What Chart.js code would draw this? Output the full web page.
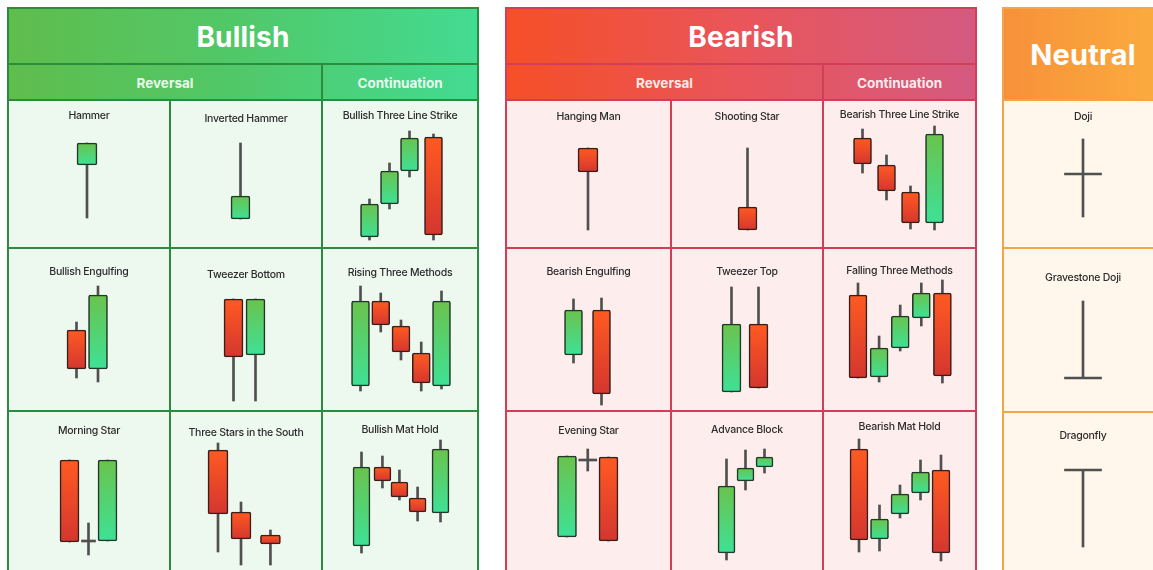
<!DOCTYPE html>
<html>
<head>
<meta charset="utf-8">
<script src="https://cdn.jsdelivr.net/npm/chart.js@4.4.1/dist/chart.umd.min.js"></script>
<style>
  html, body { margin:0; padding:0; background:#ffffff; width:1153px; height:570px; overflow:hidden; }
  body { position:relative; font-family: Inter, "Open Sans", "DejaVu Sans", sans-serif; }
  .abs { position:absolute; box-sizing:border-box; }
  .title { position:absolute; text-align:center; font-size:10.5px; font-weight:500; color:#2c2c2c; letter-spacing:-0.25px; line-height:14px; white-space:nowrap; z-index:3; }
  .hdr { position:absolute; text-align:center; color:#ffffff; font-weight:700; white-space:nowrap; z-index:3; }
  canvas { position:absolute; z-index:2; }
</style>
</head>
<body>
<script>
// ---------------- DATA ----------------
// Candles: [position, open, high, low, close]  (price units)
const panelTitles = ["Bullish", "Bearish", "Neutral"];
const groupTitles = ["Reversal", "Continuation"];

const bullishNames = ["Hammer", "Inverted Hammer", "Bullish Three Line Strike",
                      "Bullish Engulfing", "Tweezer Bottom", "Rising Three Methods",
                      "Morning Star", "Three Stars in the South", "Bullish Mat Hold"];
const bearishNames = ["Hanging Man", "Shooting Star", "Bearish Three Line Strike",
                      "Bearish Engulfing", "Tweezer Top", "Falling Three Methods",
                      "Evening Star", "Advance Block", "Bearish Mat Hold"];
const neutralNames = ["Doji", "Gravestone Doji", "Dragonfly"];

const hammer                 = [[0, 83, 105, 30, 105]];
const invertedHammer         = [[0, 29, 105, 29, 52]];
const bullishThreeLineStrike = [[0, 11, 49, 8, 44], [1, 44, 85, 39, 77], [2, 77, 117, 71, 110], [3.2, 111, 114, 8, 13]];
const bullishEngulfing       = [[0, 81, 89, 33, 42], [1, 42, 125, 29, 116]];
const tweezerBottom          = [[0, 112, 112, 10, 54], [1, 56, 112, 10, 112]];
const risingThreeMethods     = [[0, 25, 125, 20, 110], [1, 110, 118, 79, 86], [2, 85, 91, 51, 59], [3, 58, 69, 20, 28], [4, 25, 120, 22, 110]];
const morningStar            = [[0, 110, 110, 28, 28], [1, 29, 47, 15, 29], [2, 29, 110, 29, 110]];
const threeStarsInTheSouth   = [[0, 120, 127, 18, 56], [1, 58, 68, 5, 31], [2.28, 35, 40, 5, 26]];
const bullishMatHold         = [[0, 24, 118, 17, 103], [1.06, 103, 114, 82, 89], [1.92, 88, 100, 70, 73], [2.84, 72, 83, 49, 58], [4, 57, 130, 48, 121]];

const hangingMan             = [[0, 100, 100, 18, 76]];
const shootingStar           = [[0, 41, 100, 18, 18]];
const bearishThreeLineStrike = [[0, 110, 119, 75, 84], [1, 83, 93, 48, 57], [2, 56, 62, 19, 25], [3, 25, 122, 18, 114]];
const bearishEngulfing       = [[0, 56, 112, 48, 101], [1, 101, 113, 6, 17]];
const tweezerTop             = [[0, 19, 124, 19, 87], [1, 87, 124, 23, 23]];
const fallingThreeMethods    = [[0, 116, 128, 33, 33], [1, 34, 75, 29, 63], [2, 63, 106, 60, 95], [3, 93, 128, 85, 118], [4, 118, 131, 28, 35]];
const eveningStar            = [[0, 33, 114, 33, 114], [1, 110, 121, 99, 110], [2, 113, 113, 29, 29]];
const advanceBlock           = [[0, 17, 111, 10, 84], [1, 89, 120, 80, 102], [2, 103, 121, 97, 113]];
const bearishMatHold         = [[0, 121, 131, 18, 30], [1, 31, 65, 19, 51], [2, 56, 85, 52, 76], [3, 77, 110, 70, 98], [4, 100, 115, 9, 17]];

const doji                   = [[0, 74, 109, 31, 74]];
const gravestoneDoji         = [[0, 33, 110, 33, 33]];
const dragonfly              = [[0, 100, 100, 23, 100]];

const bullishData = [hammer, invertedHammer, bullishThreeLineStrike, bullishEngulfing, tweezerBottom, risingThreeMethods, morningStar, threeStarsInTheSouth, bullishMatHold];
const bearishData = [hangingMan, shootingStar, bearishThreeLineStrike, bearishEngulfing, tweezerTop, fallingThreeMethods, eveningStar, advanceBlock, bearishMatHold];
const neutralData = [doji, gravestoneDoji, dragonfly];

// ---------------- LAYOUT (positions / sizes / styles) ----------------
// per cell: [x of first candle centre, step between candles, body width, doji width, title centre y]
const bullishLayout = [
  [87, 20, 20, 0, 116], [240.5, 20, 19, 0, 119], [369.5, 20, 18, 0, 116],
  [76.5, 21.5, 19, 0, 272], [233.5, 22, 19, 0, 275], [360.5, 20.25, 18, 0, 273],
  [69.5, 19, 19, 14, 431], [218, 23, 20, 0, 433], [361.5, 19.75, 17, 0, 430]
];
const bearishLayout = [
  [588, 20, 20, 0, 117], [747.5, 20, 19, 0, 117], [862.5, 24, 18, 0, 115],
  [573.5, 28, 18, 0, 272], [731.5, 27, 19, 0, 272], [858, 21.1, 18, 0, 271],
  [567, 20.75, 19, 18, 431], [726.5, 19, 17, 0, 430], [859, 20.5, 18, 0, 427]
];
const neutralLayout = [[1083, 20, 18, 37, 117], [1083, 20, 18, 37, 278], [1083, 20, 18, 37, 436]];
const rowBaselines = [248, 411, 570];

const panels = [
  { cols:[8,170,322,478], rows:[100,248,411,572], subCols:[8,322,478], header:[8,64,100],
    border:'#2b8c3e', cell:'#edf8ef', grad:'linear-gradient(90deg,#5fbd4c 0%,#52c766 45%,#43db92 100%)',
    names:bullishNames, data:bullishData, layout:bullishLayout, title:0, titleSize:28 },
  { cols:[506,671,823,976], rows:[100,248,411,572], subCols:[506,823,976], header:[8,64,100],
    border:'#d13e58', cell:'#fdeded', grad:'linear-gradient(90deg,#f54f28 0%,#e9555a 50%,#d45a80 100%)',
    names:bearishNames, data:bearishData, layout:bearishLayout, title:1, titleSize:28 },
  { cols:[1003,1163], rows:[100,248,412,572], subCols:null, header:[8,100],
    border:'#f5a446', cell:'#fff6ec', grad:'linear-gradient(90deg,#f7903a 0%,#fbad3e 100%)',
    names:neutralNames, data:neutralData, layout:neutralLayout, title:2, titleSize:29 }
];

// ---------------- HELPERS ----------------
function box(x, y, w, h, css) {
  const d = document.createElement('div');
  d.className = 'abs';
  d.style.cssText += `left:${x}px;top:${y}px;width:${w}px;height:${h}px;` + (css || '');
  document.body.appendChild(d);
  return d;
}
function text(cls, str, x, w, cy, lh, css) {
  const d = document.createElement('div');
  d.className = cls;
  d.textContent = str;
  d.style.cssText += `left:${x}px;width:${w}px;top:${cy - lh / 2}px;line-height:${lh}px;height:${lh}px;` + (css || '');
  document.body.appendChild(d);
  return d;
}
function hLine(x1, x2, y, color) { box(x1 - 1, y - 1, x2 - x1 + 2, 2, `background:${color};z-index:4;`); }
function vLine(x, y1, y2, color) { box(x - 1, y1 - 1, 2, y2 - y1 + 2, `background:${color};z-index:4;`); }

function bodyFill(ctx) {
  if (ctx.type !== 'data' || !ctx.raw) return '#777';
  const v = ctx.raw.y;
  const up = v[1] > v[0];
  const ys = ctx.chart.scales.y;
  const top = ys ? ys.getPixelForValue(Math.max(v[0], v[1])) : NaN;
  const bot = ys ? ys.getPixelForValue(Math.min(v[0], v[1])) : NaN;
  if (!isFinite(top) || !isFinite(bot) || top === bot) return up ? '#52cf74' : '#ea4a2b';
  const g = ctx.chart.ctx.createLinearGradient(0, top, 0, bot);
  if (up) { g.addColorStop(0, '#6ac34d'); g.addColorStop(1, '#3ee196'); }
  else    { g.addColorStop(0, '#ff5a22'); g.addColorStop(1, '#d4362f'); }
  return g;
}
function bodyStroke(ctx) {
  if (ctx.type !== 'data' || !ctx.raw) return '#333';
  const v = ctx.raw.y;
  return v[1] > v[0] ? '#213a28' : '#3a1f19';
}

function candleChart(left, top, width, height, candles, lay, baseline) {
  const cv = document.createElement('canvas');
  cv.width = width; cv.height = height;
  cv.style.left = left + 'px'; cv.style.top = top + 'px';
  cv.style.width = width + 'px'; cv.style.height = height + 'px';
  document.body.appendChild(cv);

  const [c0, step, bodyW, dojiW] = lay;
  const bodies = candles.filter(c => c[1] !== c[4]).map(c => ({ x: c[0], y: [c[1], c[4]] }));
  const dojis  = candles.filter(c => c[1] === c[4]).map(c => ({ x: c[0], y: [c[1] - 1, c[1] + 1] }));
  const wicks  = candles.map(c => ({ x: c[0], y: [c[3], c[2]] }));

  new Chart(cv, {
    type: 'bar',
    data: { datasets: [
      { data: bodies, barThickness: bodyW, backgroundColor: bodyFill, borderColor: bodyStroke,
        borderWidth: 1.6, borderRadius: 2, borderSkipped: false, grouped: false, order: 0 },
      { data: dojis, barThickness: dojiW || 1, backgroundColor: '#505050', borderWidth: 0, grouped: false, order: 1 },
      { data: wicks, barThickness: 2, backgroundColor: '#505050', borderWidth: 0, grouped: false, order: 2 }
    ]},
    options: {
      responsive: false, animation: false, events: [],
      layout: { padding: 0 },
      plugins: { legend: { display: false }, tooltip: { enabled: false } },
      scales: {
        x: { type: 'linear', display: false, offset: false,
             min: (left - c0) / step, max: (left + width - c0) / step },
        y: { type: 'linear', display: false,
             min: baseline - (top + height), max: baseline - top }
      }
    }
  });
}

// ---------------- BUILD ----------------
panels.forEach(p => {
  const L = p.cols[0], R = p.cols[p.cols.length - 1];
  const hTop = p.header[0], hBot = p.header[p.header.length - 1];
  box(L, hTop, R - L, hBot - hTop, `background:${p.grad};`);
  box(L, hBot, R - L, 572 - hBot, `background:${p.cell};`);
  const titleCy = p.header.length === 3 ? (hTop + p.header[1]) / 2 + 1 : (hTop + hBot) / 2 + 1;
  text('hdr', panelTitles[p.title], L, R - L, titleCy, 36, `font-size:${p.titleSize}px;letter-spacing:0.2px;`);
  if (p.subCols) {
    const sc = (p.header[1] + p.header[2]) / 2 + 1;
    text('hdr', groupTitles[0], p.subCols[0], p.subCols[1] - p.subCols[0], sc, 18, 'font-size:13.5px;color:rgba(255,255,255,0.9);');
    text('hdr', groupTitles[1], p.subCols[1], p.subCols[2] - p.subCols[1], sc, 18, 'font-size:13.5px;color:rgba(255,255,255,0.9);');
  }
  hLine(L, R, hTop, p.border);
  p.header.slice(1).forEach(y => hLine(L, R, y, p.border));
  p.rows.slice(1, p.rows.length - 1).forEach(y => hLine(L, R, y, p.border));
  vLine(L, hTop, 572, p.border);
  vLine(R, hTop, 572, p.border);
  if (p.subCols) vLine(p.subCols[1], p.header[1], 572, p.border);
  p.cols.slice(1, p.cols.length - 1).forEach(x => vLine(x, hBot, 572, p.border));

  const nCols = p.cols.length - 1;
  p.names.forEach((name, i) => {
    const col = i % nCols, row = Math.floor(i / nCols);
    const x1 = p.cols[col] + 1, x2 = p.cols[col + 1] - 1;
    const y1 = p.rows[row] + 1, y2 = Math.min(p.rows[row + 1] - 1, 570);
    const lay = p.layout[i];
    text('title', name, x1, x2 - x1, lay[4], 14);
    candleChart(x1, y1, x2 - x1, y2 - y1, p.data[i], lay, rowBaselines[row]);
  });
});
</script>
</body>
</html>
